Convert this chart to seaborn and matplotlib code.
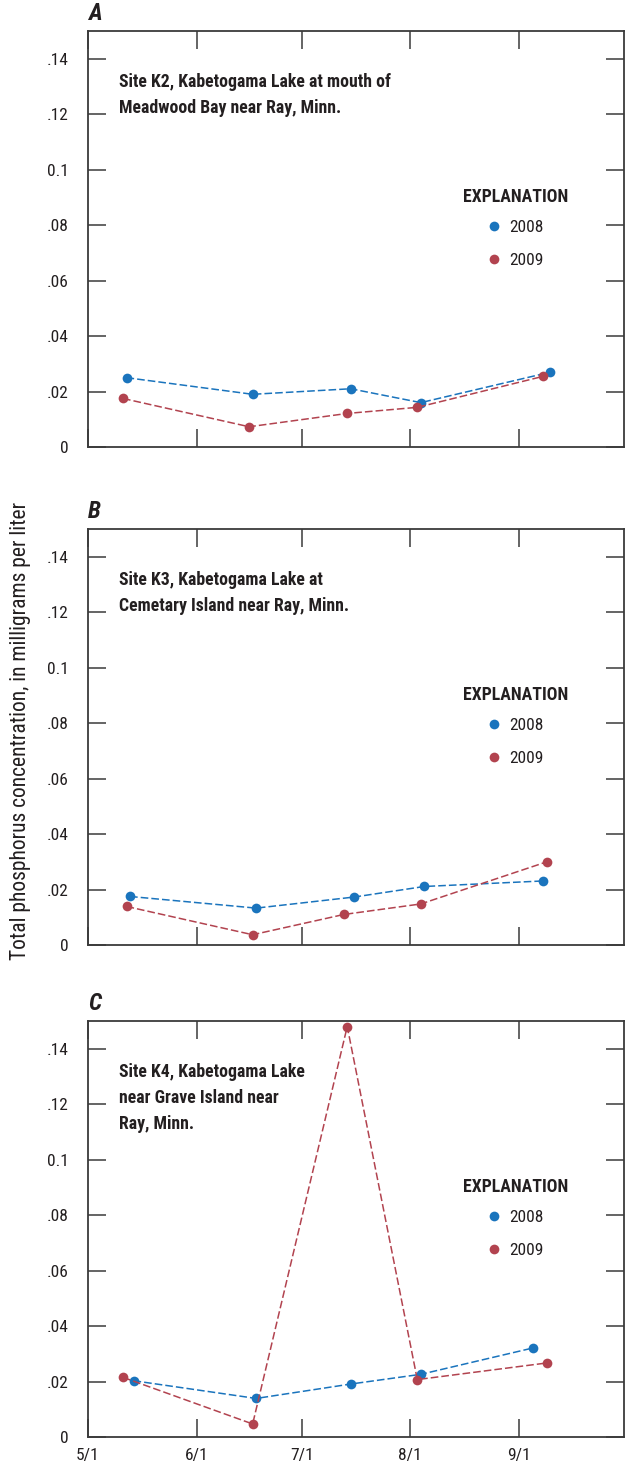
import matplotlib
matplotlib.use("Agg")
import matplotlib.pyplot as plt
from matplotlib.lines import Line2D
import seaborn as sns
import pandas as pd

# ---- data (month/day of sampling, values in mg/L) ----
panel_letters = ["A", "B", "C"]
site_titles = [
    "Site K2, Kabetogama Lake at mouth of\nMeadwood Bay near Ray, Minn.",
    "Site K3, Kabetogama Lake at\nCemetary Island near Ray, Minn.",
    "Site K4, Kabetogama Lake\nnear Grave Island near\nRay, Minn.",
]
years = ["2008", "2009"]

dates_2008_A = ["05-12", "06-17", "07-15", "08-04", "09-10"]
tp_2008_A = [0.025, 0.019, 0.021, 0.016, 0.027]
dates_2009_A = ["05-11", "06-16", "07-14", "08-03", "09-08"]
tp_2009_A = [0.0175, 0.0073, 0.0121, 0.0143, 0.0255]

dates_2008_B = ["05-13", "06-18", "07-16", "08-05", "09-08"]
tp_2008_B = [0.0175, 0.0133, 0.0173, 0.0211, 0.0231]
dates_2009_B = ["05-12", "06-17", "07-13", "08-04", "09-09"]
tp_2009_B = [0.0139, 0.0037, 0.011, 0.0148, 0.030]

dates_2008_C = ["05-14", "06-18", "07-15", "08-04", "09-05"]
tp_2008_C = [0.0203, 0.0139, 0.0191, 0.0226, 0.0321]
dates_2009_C = ["05-11", "06-17", "07-14", "08-03", "09-09"]
tp_2009_C = [0.0215, 0.0047, 0.148, 0.0207, 0.0267]

x_tick_labels = ["5/1", "6/1", "7/1", "8/1", "9/1"]
y_ticks = [0, 0.02, 0.04, 0.06, 0.08, 0.1, 0.12, 0.14]
y_tick_labels = ["0", ".02", ".04", ".06", ".08", "0.1", ".12", ".14"]
y_label = "Total phosphorus concentration, in milligrams per liter"

colors = {"2008": "#1a74bd", "2009": "#b2434f"}

# ---- style ----
sns.set_style("white")
FONT = ["Roboto Condensed", "DejaVu Sans"]
plt.rcParams["font.family"] = FONT
TXT = "#231f20"

def to_dt(md):
    return pd.to_datetime(["2000-" + d for d in md])

panels = [
    (dates_2008_A, tp_2008_A, dates_2009_A, tp_2009_A),
    (dates_2008_B, tp_2008_B, dates_2009_B, tp_2009_B),
    (dates_2008_C, tp_2008_C, dates_2009_C, tp_2009_C),
]

fig = plt.figure(figsize=(6.26, 14.65), dpi=100)
W, H = 626.0, 1465.0
left_px, right_px = 88, 624
tops = [31, 529, 1021]
height_px = 416

xmin = pd.Timestamp("2000-05-01")
xmax = pd.Timestamp("2000-10-01")
xticks = pd.to_datetime(["2000-05-01", "2000-06-01", "2000-07-01", "2000-08-01", "2000-09-01"])

for i, (d8, v8, d9, v9) in enumerate(panels):
    top = tops[i]
    ax = fig.add_axes([left_px / W, 1 - (top + height_px) / H,
                       (right_px - left_px) / W, height_px / H])
    df8 = pd.DataFrame({"date": to_dt(d8), "tp": v8})
    df9 = pd.DataFrame({"date": to_dt(d9), "tp": v9})
    for df, yr in ((df8, "2008"), (df9, "2009")):
        sns.lineplot(data=df, x="date", y="tp", ax=ax, color=colors[yr],
                     marker="o", markersize=7, markeredgewidth=0,
                     linestyle=(0, (5, 2)), linewidth=1.1, sort=False)
    ax.set_xlim(xmin, xmax)
    ax.set_ylim(0, 0.15)
    ax.set_xticks(xticks)
    ax.set_yticks(y_ticks)
    ax.set_yticklabels(y_tick_labels, fontsize=12.5, family=FONT)
    if i == 2:
        ax.set_xticklabels(x_tick_labels, fontsize=12.5, family=FONT)
    else:
        ax.set_xticklabels([])
    ax.set_xlabel("")
    ax.set_ylabel("")
    ax.tick_params(axis="both", which="major", direction="in", length=13,
                   width=1.1, color="#3a3a3a", top=True, right=True,
                   bottom=True, left=True, labelcolor=TXT)
    ax.tick_params(axis="y", pad=14)
    ax.tick_params(axis="x", pad=8)
    for sp in ax.spines.values():
        sp.set_color("#3a3a3a")
        sp.set_linewidth(1.3)

    ax.text(0.0, 1.014, panel_letters[i], transform=ax.transAxes,
            fontsize=17, fontweight="bold", fontstyle="italic",
            ha="left", va="bottom", family=FONT, color=TXT)
    ax.text(0.058, 0.898, site_titles[i], transform=ax.transAxes,
            fontsize=12.8, fontweight="bold", ha="left", va="top",
            linespacing=1.55, family=FONT, color=TXT)

    handles = [Line2D([], [], color=colors[y], marker="o", linestyle="",
                      markersize=7, markeredgewidth=0) for y in years]
    leg = ax.legend(handles, years, title="EXPLANATION", frameon=False,
                    loc="upper center", bbox_to_anchor=(0.797, 0.643),
                    borderpad=0, handlelength=0.8, handletextpad=0.5,
                    labelspacing=1.0, prop={"family": FONT, "size": 12.5},
                    title_fontproperties={"family": FONT, "size": 12.8,
                                          "weight": "bold"})
    for t in leg.get_texts():
        t.set_color(TXT)
    leg.get_title().set_color(TXT)
    leg._legend_box.sep = 10

fig.text(0.032, 0.501, y_label, rotation=90, ha="center", va="center",
         fontsize=15.5, family=FONT, color=TXT)

fig.savefig("out.png", dpi=100)
